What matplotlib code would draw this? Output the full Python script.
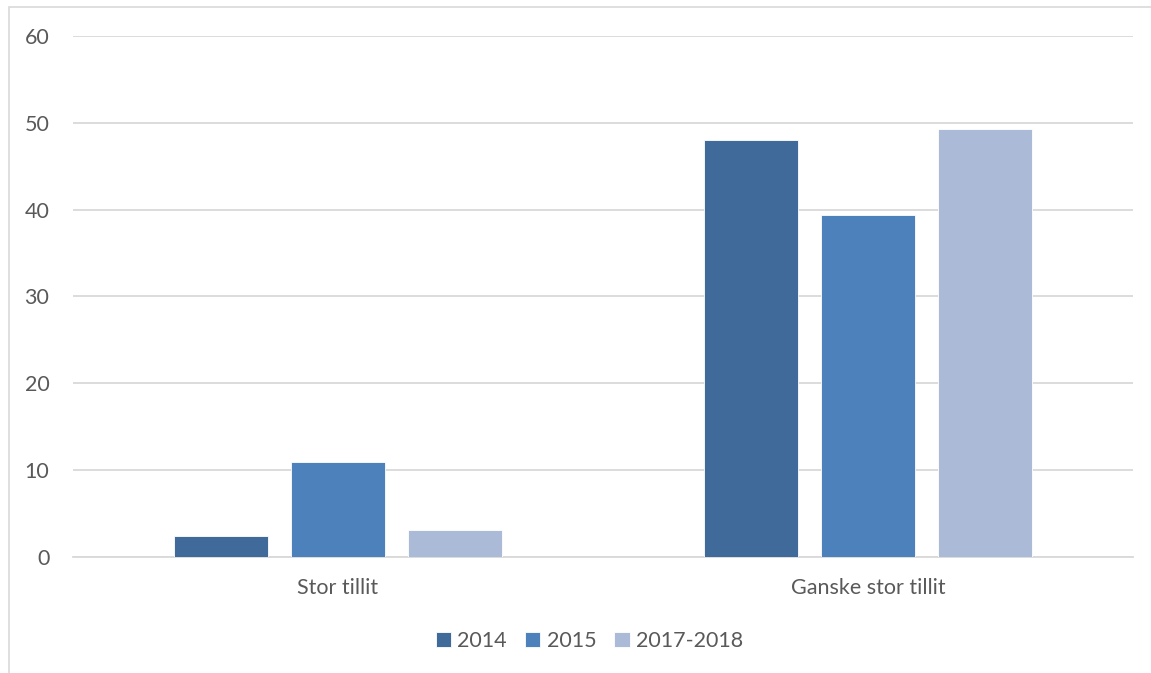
import numpy as np
import matplotlib.pyplot as plt
from matplotlib.patches import Rectangle

# data
categories = ['Stor tillit', 'Ganske stor tillit']
series = ['2014', '2015', '2017-2018']
values_2014 = [2.4, 48.0]
values_2015 = [10.9, 39.4]
values_2017_2018 = [3.1, 49.3]
yticks = [0, 10, 20, 30, 40, 50, 60]

colors = ['#3F6A9A', '#4D81BC', '#ABBAD7']
text_color = '#595959'
grid_color = '#D9D9D9'

plt.rcParams['font.family'] = ['Lato', 'DejaVu Sans']

fig = plt.figure(figsize=(11.51, 6.73), dpi=100)
ax = fig.add_axes([73 / 1151, 0.1724, 1060 / 1151, 0.7741])

# outer chart frame (light grey border)
fig.patches.append(Rectangle((9 / 1151, -0.05), 1.2, (673 - 7) / 673 + 0.05,
                             transform=fig.transFigure, fill=False,
                             edgecolor='#D9D9D9', linewidth=1.2))

x = np.arange(len(categories))
width = 0.176
step = 0.221
all_values = [values_2014, values_2015, values_2017_2018]
for i, (name, vals) in enumerate(zip(series, all_values)):
    ax.bar(x + (i - 1) * step, vals, width, color=colors[i], label=name,
           edgecolor='white', linewidth=0.6, zorder=3)

ax.set_xlim(-0.5, 1.5)
ax.set_ylim(0, 60)
ax.set_yticks(yticks)
ax.set_xticks(x)
ax.set_xticklabels(categories)
ax.yaxis.grid(True, color=grid_color, linewidth=1.3, zorder=0)
ax.tick_params(axis='both', length=0, labelsize=15.5, labelcolor=text_color)
ax.tick_params(axis='y', pad=17)
ax.tick_params(axis='x', pad=15)
for s in ['top', 'right', 'left']:
    ax.spines[s].set_visible(False)
ax.spines['bottom'].set_color(grid_color)
ax.spines['bottom'].set_linewidth(1.3)

fig.legend(loc='center', bbox_to_anchor=(0.512, 0.047), ncol=3, frameon=False,
           fontsize=15.5, handlelength=0.7, handleheight=0.7,
           handletextpad=0.3, columnspacing=0.85, labelcolor=text_color)

fig.savefig('out.png', dpi=100)
